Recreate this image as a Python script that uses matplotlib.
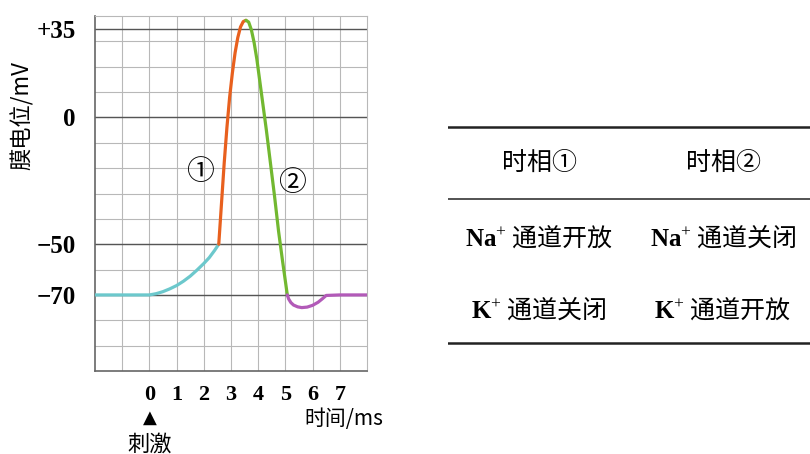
import matplotlib
matplotlib.use('Agg')
import matplotlib.pyplot as plt
from matplotlib.transforms import blended_transform_factory

plt.rcParams['font.family'] = ['Noto Sans CJK SC', 'DejaVu Sans']
plt.rcParams['mathtext.fontset'] = 'custom'
plt.rcParams['mathtext.rm'] = 'Liberation Serif'
plt.rcParams['mathtext.bf'] = 'Liberation Serif:bold'

# membrane potential curve (time ms, potential mV)
rest_t = [-2.0, -1.0, 0.0, 0.25, 0.5, 0.75, 1.0, 1.25, 1.5, 1.75, 2.0, 2.2, 2.4, 2.55]
rest_v = [-70, -70, -70, -69.5, -68.7, -67.6, -66.3, -64.6, -62.6, -60.2, -57.6, -55.3, -52.4, -50]
depol_t = [2.55, 2.65, 2.75, 2.85, 2.95, 3.05, 3.15, 3.25, 3.35, 3.45, 3.55]
depol_v = [-50, -34, -18, -4, 8, 17.5, 25.5, 31.5, 35.7, 37.8, 38.3]
repol_t = [3.55, 3.65, 3.75, 3.85, 3.95, 4.05, 4.15, 4.3, 4.45, 4.6, 4.75, 4.9, 5.07]
repol_v = [38.3, 37.6, 34.5, 29.5, 23, 15, 7, -5, -18, -31, -45, -57, -70]
hyper_t = [5.07, 5.12, 5.2, 5.3, 5.45, 5.6, 5.8, 6.0, 6.2, 6.35, 6.5, 7.0, 8.0]
hyper_v = [-70, -71.6, -73, -74, -74.7, -75, -74.8, -74.1, -72.9, -71.6, -70.2, -70, -70]

seg_colors = ['#6cc8cc', '#e8601e', '#72b830', '#b25ab8']

ytick_vals = [35, 0, -50, -70]
ytick_labels = ['+35', '0', '\u221250', '\u221270']
xtick_vals = [0, 1, 2, 3, 4, 5, 6, 7]

table_header = ['时相①', '时相②']
table_rows = [[r'$\mathbf{Na}^{+}$ 通道开放', r'$\mathbf{Na}^{+}$ 通道关闭'],
              [r'$\mathbf{K}^{+}$ 通道关闭', r'$\mathbf{K}^{+}$ 通道开放']]

fig = plt.figure(figsize=(8.1, 4.54), dpi=100)
ax = fig.add_axes([95 / 810, 1 - 371 / 454, 272 / 810, 355 / 454])

ax.set_xlim(-2, 8)
ax.set_ylim(-100, 40)
for x in range(-1, 8):
    ax.axvline(x, color='#b8b8b8', lw=0.8, zorder=0)
for y in range(-90, 40, 10):
    ax.axhline(y, color='#b8b8b8', lw=0.8, zorder=0)
for v in ytick_vals:
    ax.axhline(v, color='#555555', lw=1.0, zorder=1)

for t, v, c in zip([rest_t, depol_t, repol_t, hyper_t],
                   [rest_v, depol_v, repol_v, hyper_v], seg_colors):
    ax.plot(t, v, color=c, lw=2.3, solid_capstyle='round',
            solid_joinstyle='round', zorder=3)

ax.set_yticks(ytick_vals)
ax.set_yticklabels(ytick_labels, fontfamily='Liberation Serif',
                   fontweight='bold', fontsize=18)
ax.set_xticks(xtick_vals)
ax.set_xticklabels([str(x) for x in xtick_vals], fontfamily='Liberation Serif',
                   fontweight='bold', fontsize=16)
ax.tick_params(which='both', length=0)
ax.tick_params(axis='y', pad=14)
ax.tick_params(axis='x', pad=10)
for side in ['top', 'right']:
    ax.spines[side].set_color('#b8b8b8')
    ax.spines[side].set_linewidth(0.8)
for side in ['left', 'bottom']:
    ax.spines[side].set_color('#666666')
    ax.spines[side].set_linewidth(1.2)

ax.set_ylabel('膜电位/mV', fontsize=16)
ax.yaxis.set_label_coords(-0.225, 0.72)

ax.text(1.87, -21.5, '①', fontsize=20, ha='center', va='center')
ax.text(5.25, -26, '②', fontsize=20, ha='center', va='center')

trans = blended_transform_factory(ax.transData, ax.transAxes)
ax.text(0, -0.132, '\u25b2', fontfamily='DejaVu Sans', fontsize=13,
        ha='center', va='center', transform=trans)
ax.text(0, -0.205, '刺激', fontsize=16, ha='center', va='center', transform=trans)
ax.text(8.6, -0.136, '时间/ms', fontsize=15, ha='right', va='center',
        transform=trans)

# table on the right
tab = fig.add_axes([448 / 810, 0, 362 / 810, 1])
tab.set_xlim(0, 362)
tab.set_ylim(454, 0)
tab.axis('off')
tab.axhline(127, color='#222222', lw=1.8)
tab.axhline(199, color='#444444', lw=1.3)
tab.axhline(343, color='#222222', lw=1.8)
col_x = [91, 275]
for x, h in zip(col_x, table_header):
    tab.text(x, 163, h, fontsize=18, ha='center', va='center')
for y, row in zip([238, 310], table_rows):
    for x, cell in zip(col_x, row):
        tab.text(x, y, cell, fontsize=18, ha='center', va='center')

fig.savefig('out.png', dpi=100)
